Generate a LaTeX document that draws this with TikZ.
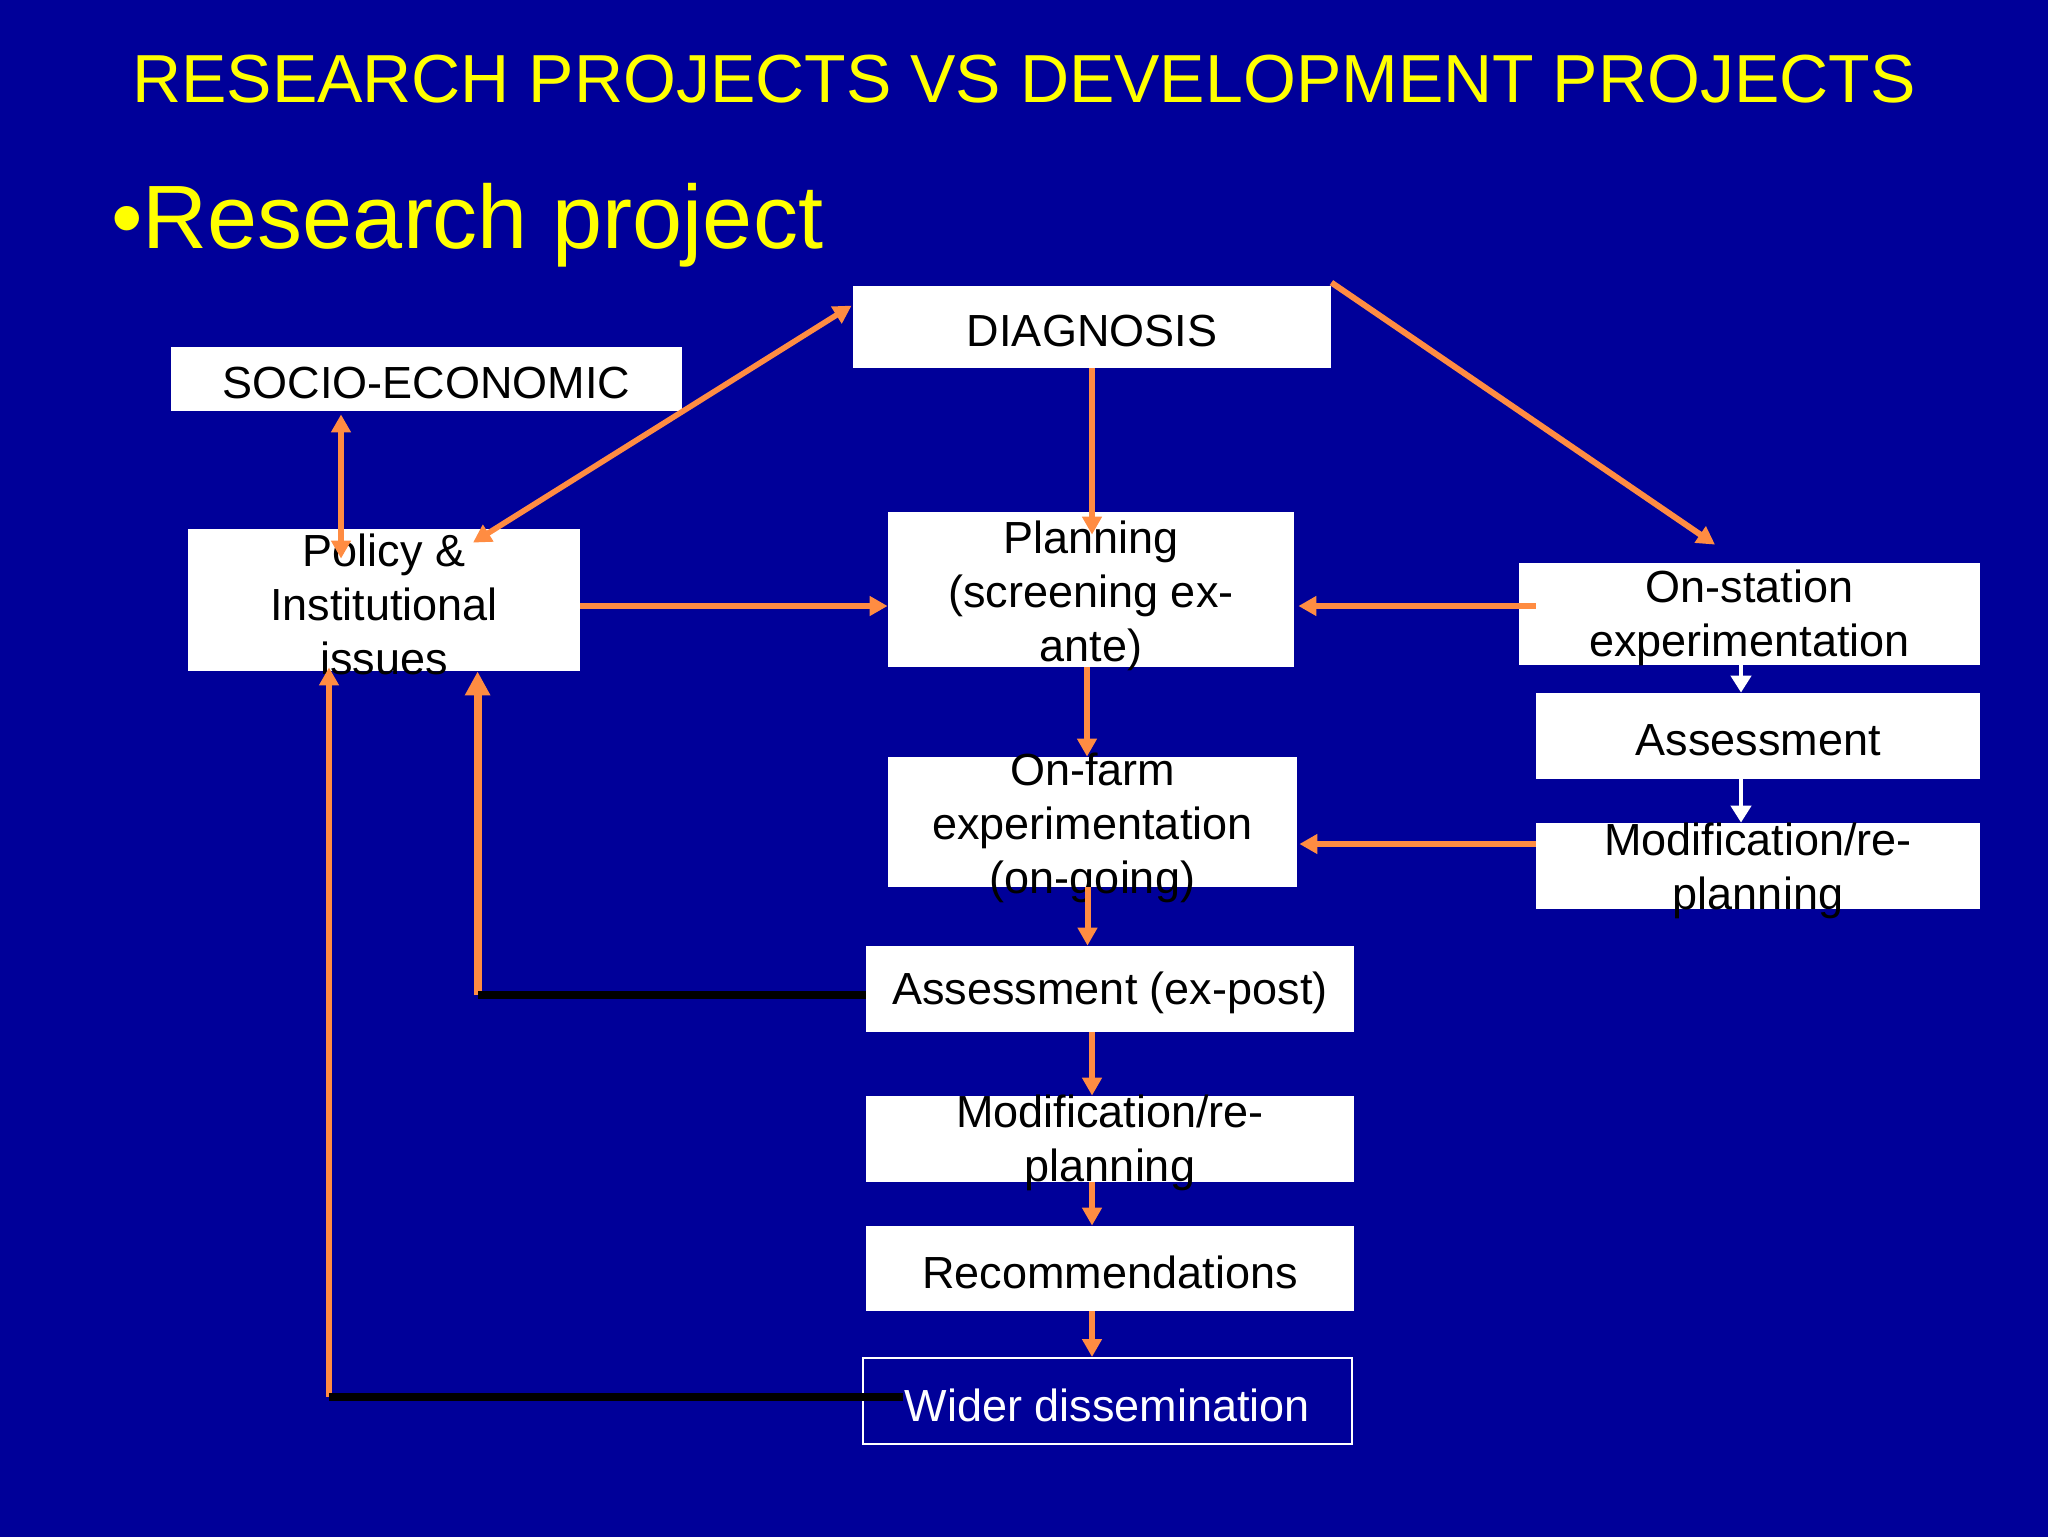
\documentclass[tikz,border=0pt]{standalone}
\usepackage{fontspec}
\setmainfont{Liberation Sans}
\usetikzlibrary{arrows.meta,calc}
\definecolor{bg}{RGB}{0,0,153}
\definecolor{orng}{RGB}{255,140,66}
\definecolor{ttl}{RGB}{255,255,0}
\begin{document}
\begin{tikzpicture}[x=0.5pt,y=-0.5pt,
  box/.style={fill=white, draw=none, inner sep=0pt},
  obox/.style={fill=none, draw=white, line width=1pt, inner sep=0pt},
  txt/.style={align=center, inner sep=0pt, text=black, yshift=-2pt, font=\fontsize{22.5}{27}\selectfont},
  oarr/.style={draw=orng, line width=3pt, -{Triangle[length=9pt,width=9.5pt]}},
  oboth/.style={draw=orng, line width=2.8pt, {Triangle[length=9pt,width=9.5pt]}-{Triangle[length=9pt,width=9.5pt]}},
  othick/.style={draw=orng, line width=4pt, -{Triangle[length=12pt,width=12pt]}},
  blk/.style={draw=black, line width=4pt},
  warr/.style={draw=white, line width=2.4pt, -{Triangle[length=8.5pt,width=10pt]}}
]
\useasboundingbox (0,0) rectangle (2048,1536);
\fill[bg] (-4,-4) rectangle (2052,1540);

% titles
\node[anchor=base, inner sep=0pt, text=ttl, font=\fontsize{34}{40}\selectfont] (title) at (1024,103) {RESEARCH PROJECTS VS DEVELOPMENT PROJECTS};
\node[anchor=base west, inner sep=0pt, text=ttl, font=\fontsize{45}{54}\selectfont] (sub) at (111,248) {•Research project};

% boxes
\node[box, minimum width=239pt, minimum height=41pt] (diag) at (1092,327) {};
\node[box, minimum width=255.5pt, minimum height=32pt] (socio) at (426.5,379) {};
\node[box, minimum width=196pt, minimum height=71pt] (policy) at (384,600) {};
\node[box, minimum width=203pt, minimum height=77.5pt] (plan) at (1091,589.5) {};
\node[box, minimum width=230.5pt, minimum height=51pt] (onst) at (1749.5,614) {};
\node[box, minimum width=222pt, minimum height=43pt] (assR) at (1758,736) {};
\node[box, minimum width=222pt, minimum height=43pt] (modR) at (1758,866) {};
\node[box, minimum width=204.5pt, minimum height=65pt] (onfarm) at (1092.5,822) {};
\node[box, minimum width=244pt, minimum height=43pt] (assC) at (1110,989) {};
\node[box, minimum width=244pt, minimum height=43pt] (modC) at (1110,1139) {};
\node[box, minimum width=244pt, minimum height=42.5pt] (rec) at (1110,1268.5) {};
\node[obox, minimum width=244.5pt, minimum height=43pt] (wider) at (1107.5,1401) {};

% texts
\node[txt] (diag-t) at (diag) {DIAGNOSIS};
\node[txt] (socio-t) at (socio) {SOCIO-ECONOMIC};
\node[txt] (policy-t) at (policy) {Policy \&\\Institutional\\issues};
\node[txt] (plan-t) at ($(plan)+(0,2)$) {Planning\\(screening ex-\\ante)};
\node[txt] (onst-t) at (onst) {On-station\\experimentation};
\node[txt] (assR-t) at (assR) {Assessment};
\node[txt] (modR-t) at ($(modR)+(0,1)$) {Modification/re-\\planning};
\node[txt] (onfarm-t) at ($(onfarm)+(0,2)$) {On-farm\\experimentation\\(on-going)};
\node[txt] (assC-t) at (assC) {Assessment (ex-post)};
\node[txt] (modC-t) at (modC) {Modification/re-\\planning};
\node[txt] (rec-t) at (rec) {Recommendations};
\node[txt, text=white] (wider-t) at (wider) {Wider dissemination};

% feedback lines (orange under black)
\coordinate (c1) at ($(wider.west)+(-533,-4)$);
\coordinate (c2) at ($(assC.west)+(-388,6)$);
\draw[oarr] (c1) -- ($(c1 |- policy.south)+(0,-4)$);
\draw[othick] (c2) -- (c2 |- policy.south);
\draw[blk] ($(wider.west)+(41,-4)$) -- (c1);
\draw[blk] (assC.west) ++(0,6) -- (c2);

% central flow
\draw[oarr] (diag.south) -- ($(plan.north)+(1,23)$);
\draw[oarr] ($(plan.south)+(-4,0)$) -- ($(plan.south |- onfarm.north)+(-4,0)$);
\draw[oarr] ($(onfarm.south)+(-5,0)$) -- ($(onfarm.south |- assC.north)+(-5,0)$);
\draw[oarr] ($(assC.south)+(-18,0)$) -- ($(modC.north)+(-18,0)$);
\draw[oarr] ($(modC.south)+(-18,0)$) -- ($(rec.north)+(-18,0)$);
\draw[oarr] ($(rec.south)+(-18,0)$) -- ($(wider.north)+(-15.5,0)$);

% horizontals
\draw[oarr] ($(policy.east)+(0,6)$) -- ($(policy.east -| plan.west)+(0,6)$);
\draw[oarr] ($(onst.west)+(17,-8)$) -- ($(onst.west -| plan.east)+(4,-8)$);
\draw[oarr] ($(modR.west)+(0,-22)$) -- ($(modR.west -| onfarm.east)+(2,-22)$);

% diagonals
\draw[oarr] ($(diag.north east)+(0,-3)$) -- ($(onst.north)+(-34.5,-18)$);
\draw[oboth] ($(policy.north)+(89,14)$) -- ($(diag.north west)+(-1,20)$);
\draw[oboth] ($(socio.south)+(-85.5,3)$) -- ($(socio.south |- policy.north)+(-85.5,30)$);

% right column
\draw[warr] ($(onst.south)+(-8.5,-6)$) -- ($(onst.south |- assR.north)+(-8.5,0)$);
\draw[warr] ($(assR.south)+(-17,0)$) -- ($(modR.north)+(-17,0)$);
\end{tikzpicture}
\end{document}
